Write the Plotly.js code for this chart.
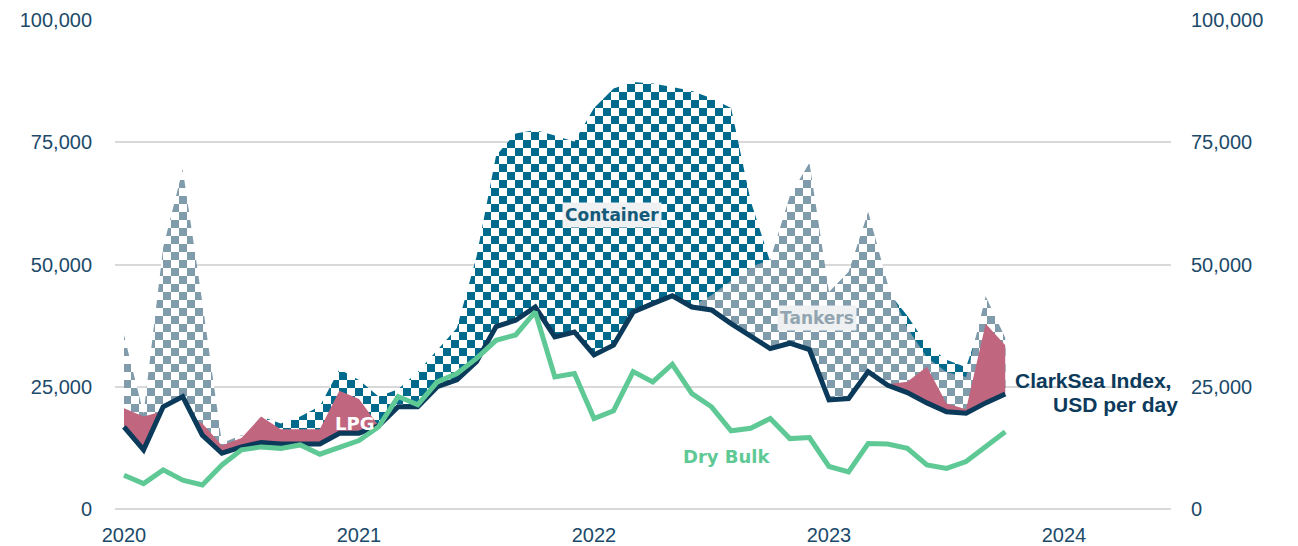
<!DOCTYPE html>
<html>
<head>
<meta charset="utf-8">
<script src="https://cdn.plot.ly/plotly-3.0.1.min.js"></script>
<style>
  html, body { margin: 0; padding: 0; background: #ffffff; }
  #chart { width: 1298px; height: 546px; }
</style>
</head>
<body>
<div id="chart"></div>
<script>
// Monthly data, Jan 2020 .. Oct 2023 (USD thousand per day)
const months = ["2020-01","2020-02","2020-03","2020-04","2020-05","2020-06","2020-07","2020-08","2020-09","2020-10","2020-11","2020-12",
                "2021-01","2021-02","2021-03","2021-04","2021-05","2021-06","2021-07","2021-08","2021-09","2021-10","2021-11","2021-12",
                "2022-01","2022-02","2022-03","2022-04","2022-05","2022-06","2022-07","2022-08","2022-09","2022-10","2022-11","2022-12",
                "2023-01","2023-02","2023-03","2023-04","2023-05","2023-06","2023-07","2023-08","2023-09","2023-10"];

const clarksea = [16.8,12.1,20.9,23.0,15.1,11.4,12.7,13.6,13.3,13.4,13.3,15.5,
                  15.5,17.0,20.9,20.9,25.0,26.4,30.1,37.3,38.6,41.3,35.2,36.2,
                  31.5,33.5,40.3,42.0,43.6,41.3,40.7,37.9,35.2,32.8,33.9,32.6,
                  22.3,22.6,28.1,25.3,23.8,21.7,19.9,19.6,21.7,23.5];

const dryBulk = [6.9,5.2,8.0,5.9,4.9,9.0,12.1,12.7,12.4,13.1,11.2,12.7,
                 14.0,16.8,23.0,21.3,26.0,27.7,30.8,34.5,35.6,40.3,27.0,27.7,
                 18.5,20.1,28.1,26.0,29.6,23.6,20.9,16.0,16.5,18.5,14.4,14.6,
                 8.7,7.6,13.4,13.3,12.4,9.0,8.3,9.7,12.7,15.8];

const container = [10,9,9,10,11,12,14,18.9,17.5,18.9,21.0,28.6,
                   26.4,23.0,24.5,28.0,32.5,37.0,51.6,72.3,76.8,77.5,76.4,75.1,
                   82.0,86.0,87.3,87.0,86.3,85.5,84.0,82.0,63.0,50.5,47.0,45.0,
                   43.0,44.0,46.0,44.5,39.5,33.5,30.5,29.0,41.0,33.0];

const tankers = [35.6,19.5,53.5,69.5,42.3,13.5,15.1,14,13,13,13,15,
                 15,14,13,12,11,12,11,13,15,18,20,22,
                 20,25,30,33,36,41.5,43.7,46.7,49.5,51.0,64.0,70.8,
                 44.4,48.5,60.8,46.0,37.0,31.0,28.0,27.0,43.5,35.0];

const lpg = [20.6,18.9,20.0,19.5,17.5,13.0,14.5,18.9,16.3,16.3,16.3,24.2,
             22.5,17.0,14,13,12,14,16,20,22,25,24,23,
             22,24,28,32,35,33,30,28,26,25,27,25,
             18,18,22,25.5,26.0,29.1,21.6,20.4,37.9,33.5];

const yearTicks = [2020, 2021, 2022, 2023, 2024];
const yearLabels = ["2020", "2021", "2022", "2023", "2024"];
const yTicks = [0, 25000, 50000, 75000, 100000];

// ---- helpers ----
const xs = months.map(m => { const [y, mo] = m.split("-").map(Number); return y + (mo - 1) / 12; });
const K = v => v * 1000;

// band between the ClarkSea line and a series, only where the series is above it
function bandAbove(x, top, base) {
  const X = [], U = [], B = [];
  for (let i = 0; i < x.length; i++) {
    if (i > 0) {
      const d0 = top[i-1] - base[i-1], d1 = top[i] - base[i];
      if ((d0 > 0 && d1 < 0) || (d0 < 0 && d1 > 0)) {
        const t = d0 / (d0 - d1);
        const xc = x[i-1] + t * (x[i] - x[i-1]);
        const yc = base[i-1] + t * (base[i] - base[i-1]);
        X.push(xc); U.push(K(yc)); B.push(K(yc));
      }
    }
    X.push(x[i]); U.push(K(Math.max(top[i], base[i]))); B.push(K(base[i]));
  }
  return {X, U, B};
}

const colors = {
  container: "#006a8c",
  tankers: "#809bab",
  lpg: "#c1667f",
  navy: "#0c3a5b",
  green: "#5fc995",
  tick: "#1c4a6a"
};

function bandTraces(series, color, name, pattern) {
  const b = bandAbove(xs, series, clarksea);
  const base = { x: b.X, y: b.B, mode: "lines", line: { width: 0, color: "rgba(0,0,0,0)" },
                 hoverinfo: "skip", showlegend: false };
  const area = { x: b.X, y: b.U, mode: "lines", name: name, fill: "tonexty",
                 line: { width: 0, color: "rgba(0,0,0,0)" }, showlegend: false, hoverinfo: "skip" };
  if (pattern) {
    area.fillcolor = "#ffffff";
    area.fillpattern = { shape: ".", fgcolor: color, bgcolor: "#ffffff", size: 16, solidity: 0.5 };
  } else {
    area.fillcolor = color;
  }
  return [base, area];
}

const traces = [
  ...bandTraces(container, colors.container, "Container", true),
  ...bandTraces(tankers, colors.tankers, "Tankers", true),
  ...bandTraces(lpg, colors.lpg, "LPG", false),
  { x: xs, y: clarksea.map(K), mode: "lines", name: "ClarkSea Index",
    line: { color: colors.navy, width: 5 }, showlegend: false },
  { x: xs, y: dryBulk.map(K), mode: "lines", name: "Dry Bulk", yaxis: "y2",
    line: { color: colors.green, width: 5 }, showlegend: false }
];

const tickFont = { family: "Liberation Sans, Arial, sans-serif", size: 20, color: colors.tick };
const labFont = (c, s) => ({ family: "DejaVu Sans, Verdana, sans-serif", size: s, color: c, weight: "bold" });
const csFont = { family: "Liberation Sans, Arial, sans-serif", size: 21, color: colors.navy, weight: "bold" };

const layout = {
  width: 1298, height: 546,
  margin: { l: 115, r: 127, t: 20, b: 37 },
  paper_bgcolor: "#ffffff", plot_bgcolor: "#ffffff",
  showlegend: false,
  xaxis: {
    range: [2020 - 9/235, 2024 + 107/235],
    tickvals: yearTicks, ticktext: yearLabels,
    showgrid: false, zeroline: false, showline: false,
    ticks: "outside", ticklen: 8, tickcolor: "rgba(0,0,0,0)",
    tickfont: tickFont
  },
  yaxis: {
    range: [0, 100000], tickvals: yTicks, tickformat: ",",
    showgrid: true, gridcolor: "#d9d9d9", gridwidth: 2,
    zeroline: true, zerolinecolor: "#d9d9d9", zerolinewidth: 2,
    showline: false, ticks: "outside", ticklen: 18, tickcolor: "rgba(0,0,0,0)",
    tickfont: tickFont
  },
  yaxis2: {
    range: [0, 100000], tickvals: yTicks, tickformat: ",",
    overlaying: "y", side: "right",
    showgrid: false, zeroline: false, showline: false,
    ticks: "outside", ticklen: 15, tickcolor: "rgba(0,0,0,0)",
    tickfont: tickFont
  },
  annotations: [
    { x: 2022.077, y: 60100, xref: "x", yref: "y", text: "Container", showarrow: false,
      font: labFont("#145a7a", 17), bgcolor: "#eef0f1", borderpad: 2 },
    { x: 2022.947, y: 39100, xref: "x", yref: "y", text: "Tankers", showarrow: false,
      font: labFont("#92a4b0", 17), bgcolor: "#eef0f1", borderpad: 2 },
    { x: 2020.979, y: 17400, xref: "x", yref: "y", text: "LPG", showarrow: false,
      font: labFont("#ffffff", 18) },
    { x: 2022.568, y: 10700, xref: "x", yref: "y", text: "Dry Bulk", showarrow: false,
      font: labFont(colors.green, 18) },
    { x: 1.0019, y: 0.2618, xref: "paper", yref: "paper", text: "ClarkSea Index,", showarrow: false,
      xanchor: "right", yanchor: "middle", font: csFont },
    { x: 1.0085, y: 0.2127, xref: "paper", yref: "paper", text: "USD per day", showarrow: false,
      xanchor: "right", yanchor: "middle", font: csFont }
  ]
};

// turn the library's dot patterns into a checkerboard of the same colour
function checkerize(gd) {
  const NS = "http://www.w3.org/2000/svg";
  const s = 8;
  gd.querySelectorAll("pattern").forEach(p => {
    let fg = null;
    p.querySelectorAll("circle, path").forEach(el => {
      const f = el.style.fill || el.getAttribute("fill");
      if (f && f !== "none") fg = f;
    });
    if (!fg) return;
    while (p.firstChild) p.removeChild(p.firstChild);
    p.setAttribute("width", 2 * s);
    p.setAttribute("height", 2 * s);
    p.setAttribute("patternUnits", "userSpaceOnUse");
    p.removeAttribute("patternTransform");
    const mk = (x, y, w, h, c) => {
      const r = document.createElementNS(NS, "rect");
      r.setAttribute("x", x); r.setAttribute("y", y);
      r.setAttribute("width", w); r.setAttribute("height", h);
      r.setAttribute("fill", c);
      p.appendChild(r);
    };
    mk(0, 0, 2 * s, 2 * s, "#ffffff");
    mk(0, 0, s, s, fg);
    mk(s, s, s, s, fg);
  });
}

const gd = document.getElementById("chart");
Plotly.newPlot(gd, traces, layout, { displayModeBar: false, staticPlot: true }).then(() => checkerize(gd));
</script>
</body>
</html>
